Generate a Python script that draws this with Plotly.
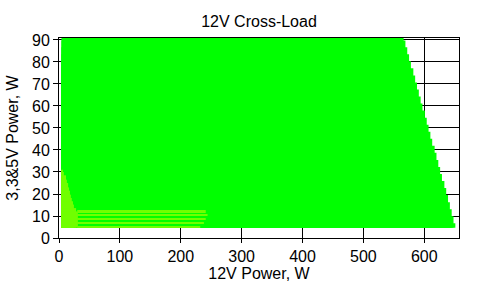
import plotly.graph_objects as go

# Main (green) load region: row boundaries in 3.3&5V power (W), top to bottom,
# and the maximum 12V power reached in each row.
green_row_edges = [90.9, 89.8, 86.7, 83.5, 80.3, 77.1, 73.9, 70.7, 67.5, 64.3,
                   61.1, 57.9, 54.7, 51.5, 48.3, 45.1, 41.9, 38.7, 35.5, 32.3,
                   29.1, 25.9, 22.7, 19.5, 16.3, 13.1, 9.9, 6.7, 4.7]
green_row_xmax = [566, 569, 572, 575, 578, 582, 585, 588, 591, 594,
                  597, 601, 604, 607, 610, 613, 617, 620, 623, 626,
                  629, 633, 636, 639, 642, 645, 648, 651]
x_start = 4

# Yellow-green area at low 12V load (left staircase)
yellow_row_edges = [31.0, 30.0, 28.5, 26.5, 25.0, 23.0, 21.5, 19.7, 18.2,
                    16.7, 15.2, 13.6, 12.1, 4.7]
yellow_row_xmax = [6.5, 8, 11.5, 13, 15, 16.5, 18, 19.5, 21, 23, 24.5, 28, 31]

# Yellow-green stripes (bottom, low 3.3&5V load)
stripe_top = [12.7, 10.9, 9.1, 7.3, 5.5]
stripe_bottom = [11.8, 10.0, 8.2, 6.4, 4.7]
stripe_xstart = [30, 30, 30, 30, 30]
stripe_xend = [241, 244, 241, 238, 232]

GREEN = "#00ff00"
YELLOW = "#70ff00"


def stacked_rows(edges, xmax, xs):
    """Each row drawn as a bar from the region bottom up to the row top,
    so that consecutive rows overlap (no seams)."""
    bottom = edges[-1]
    yc, h, base, length = [], [], [], []
    for i, xm in enumerate(xmax):
        top = edges[i]
        yc.append((top + bottom) / 2)
        h.append(top - bottom)
        base.append(xs)
        length.append(xm - xs)
    return yc, h, base, length


fig = go.Figure()

yc, h, base, length = stacked_rows(green_row_edges, green_row_xmax, x_start)
fig.add_trace(go.Bar(orientation="h", y=yc, x=length, base=base, width=h,
                     marker=dict(color=GREEN, line=dict(width=0)),
                     hoverinfo="skip", showlegend=False))

yc, h, base, length = stacked_rows(yellow_row_edges, yellow_row_xmax, x_start)
fig.add_trace(go.Bar(orientation="h", y=yc, x=length, base=base, width=h,
                     marker=dict(color=YELLOW, line=dict(width=0)),
                     hoverinfo="skip", showlegend=False))

fig.add_trace(go.Bar(orientation="h",
                     y=[(t + b) / 2 for t, b in zip(stripe_top, stripe_bottom)],
                     x=[e - s for s, e in zip(stripe_xstart, stripe_xend)],
                     base=stripe_xstart,
                     width=[t - b for t, b in zip(stripe_top, stripe_bottom)],
                     marker=dict(color=YELLOW, line=dict(width=0)),
                     hoverinfo="skip", showlegend=False))

font_family = "Arial, Liberation Sans, sans-serif"

fig.update_layout(
    width=487, height=286,
    margin=dict(l=59, r=28, t=38, b=48),
    paper_bgcolor="white", plot_bgcolor="white",
    barmode="overlay",
    font=dict(family=font_family, size=16, color="black"),
    title=dict(text="12V Cross-Load", x=0.5, xref="paper", xanchor="center",
               y=0.925, yref="container", yanchor="middle",
               font=dict(size=16, color="black")),
    xaxis=dict(range=[0, 657], dtick=100, tick0=0, showgrid=True,
               gridcolor="black", gridwidth=1, zeroline=False,
               showline=True, linecolor="black", linewidth=1, mirror=True,
               ticks="outside", ticklen=4, tickcolor="black",
               tickfont=dict(size=16), automargin=False,
               title=dict(text="12V Power, W", standoff=2,
                          font=dict(size=16))),
    yaxis=dict(range=[0, 90.9], dtick=10, tick0=0, showgrid=True,
               gridcolor="black", gridwidth=1, zeroline=False,
               showline=True, linecolor="black", linewidth=1, mirror=True,
               ticks="outside", ticklen=5, tickcolor="black",
               tickfont=dict(size=16), automargin=False,
               title=dict(text="3,3&5V Power, W", standoff=9,
                          font=dict(size=16))),
)

fig.write_html("out.html")
